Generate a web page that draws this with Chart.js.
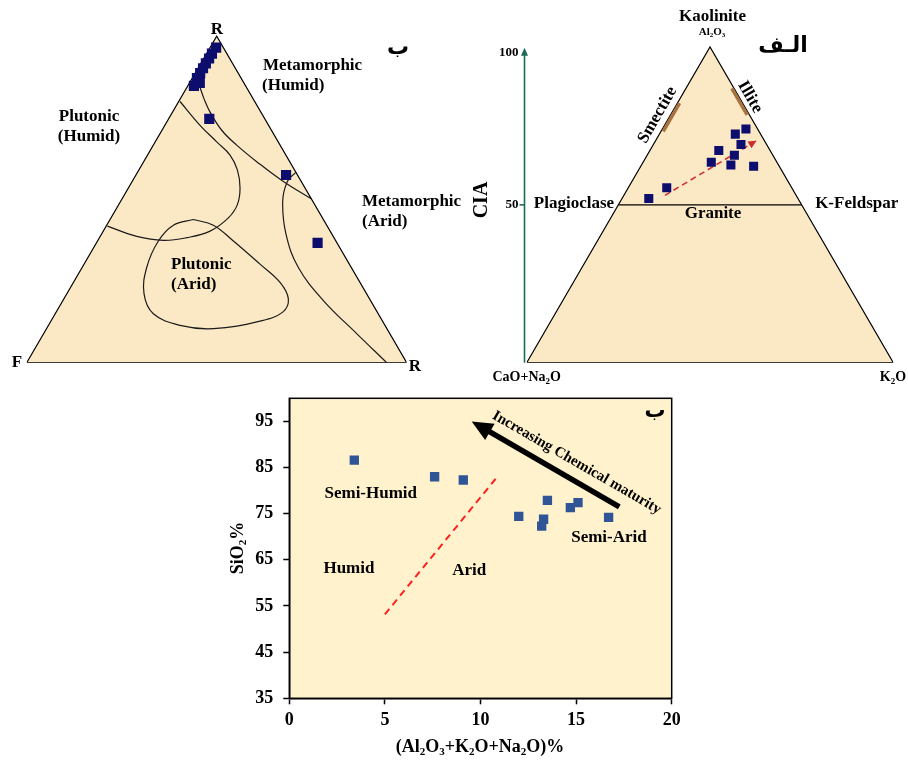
<!DOCTYPE html>
<html><head><meta charset="utf-8">
<script src="https://cdn.jsdelivr.net/npm/chart.js@4.4.1/dist/chart.umd.min.js"></script>
<style>
html,body{margin:0;padding:0;background:#fff;width:908px;height:761px;overflow:hidden}
canvas{position:absolute;display:block}
</style></head><body>
<canvas id="cA" width="470" height="390" style="left:0;top:0"></canvas>
<canvas id="cB" width="438" height="390" style="left:470px;top:0"></canvas>
<canvas id="cC" width="470" height="371" style="left:230px;top:390px"></canvas>
<script>
// ================= DATA =================
// Top-left ternary (apex R, left F, right R), composition in %
const qfrApex  = [96.5, 94.7, 93.2, 91.7, 90.2, 88.7, 87.2, 85.7, 84.8, 74.7, 57.5, 36.7];
const qfrLeftF = [1.9, 3.9, 5.4, 7.0, 8.5, 10.0, 11.6, 11.6, 13.6, 14.6, 3.0, 5.1];
const qfrRight = [1.6, 1.4, 1.4, 1.3, 1.3, 1.3, 1.2, 2.7, 1.6, 10.7, 39.5, 58.2];
// field boundaries of the top-left diagram (diagram units, base 0-100)
const fieldPlutonicHumid = [[40.35,69.3],[45.61,62.98],[50.0,58.6],[53.51,55.09],[55.44,51.14],[56.14,46.32],[55.44,41.93],[53.07,38.42],[48.25,34.91],[42.11,33.16],[35.96,32.46],[28.95,33.51],[21.23,36.23]];
const fieldMetaHumid = [[45.61,73.07],[46.67,70.0],[48.25,66.49],[51.32,61.67],[55.26,57.72],[60.53,53.33],[67.54,48.07],[74.85,43.51]];
const fieldPlutonicArid = [[43.86,37.98],[49.12,36.49],[54.39,32.28],[61.4,26.14],[66.67,21.32],[68.86,16.93],[67.37,13.42],[61.4,11.05],[49.12,9.04],[40.35,9.91],[33.33,12.98],[30.88,18.25],[31.58,25.26],[34.65,32.28],[38.6,36.49],[43.86,37.98]];
const fieldMetaArid = [[70.8,50.5],[68.6,48.07],[67.37,42.81],[68.25,34.04],[71.49,25.26],[78.07,16.49],[86.84,7.72],[94.74,0]];

// Top-right A-CN-K ternary (CIA)
const ackA  = [52.0, 55.4, 63.5, 67.2, 62.6, 65.7, 72.4, 69.1, 74.0, 62.2];
const ackCN = [40.7, 34.1, 17.9, 14.0, 13.0, 10.5, 6.9, 7.0, 3.2, 7.0];
const ackK  = [7.3, 10.5, 18.6, 18.8, 24.4, 23.8, 20.7, 23.9, 22.8, 30.8];
const trendA = [53.0, 70.3];
const trendK = [11.2, 27.5];
const smectiteA = [73.3, 82.2];
const illiteA = [78.5, 86.9];
const ciaTicks = [50, 100];

// Bottom scatter
const sumOxides = [3.4, 7.6, 9.1, 12.0, 13.3, 13.2, 13.5, 14.7, 15.1, 16.7];
const sio2      = [86.6, 83.0, 82.3, 74.4, 73.8, 72.3, 77.9, 76.3, 77.4, 74.2];
const xTickVals = [0, 5, 10, 15, 20];
const yTickVals = [35, 45, 55, 65, 75, 85, 95];
const dividerX = [5.0, 10.9];
const dividerY = [53.2, 83.1];
const maturityX = [17.26, 9.54];
const maturityY = [76.5, 95.0];

// ================= HELPERS =================
const H = Math.sqrt(3) / 2;
const qfrXY = (apex, right) => ({x: right + apex / 2, y: apex * H});
const ackXY = (a, k) => ({x: k + a / 2, y: a * H});
const FONT = '"Liberation Serif","Times New Roman",serif';
const AR = '"DejaVu Sans","Noto Sans",sans-serif';
const CREAM = '#fbe9c5';

function drawText(ctx, t) {
  ctx.save();
  ctx.fillStyle = t.color || '#000';
  ctx.translate(t.x, t.y);
  if (t.rot) ctx.rotate(t.rot);
  const size = t.size || 17;
  const base = `bold ${size}px ${t.arabic ? AR : FONT}`;
  const subF = `bold ${Math.round(size * 0.62)}px ${FONT}`;
  const parts = [];
  const re = /_(\d)/g; let last = 0, m;
  while ((m = re.exec(t.text))) {
    if (m.index > last) parts.push([t.text.slice(last, m.index), false]);
    parts.push([m[1], true]); last = re.lastIndex;
  }
  if (last < t.text.length) parts.push([t.text.slice(last), false]);
  let w = 0;
  parts.forEach(p => { ctx.font = p[1] ? subF : base; w += ctx.measureText(p[0]).width; });
  let cx = t.align === 'left' ? 0 : t.align === 'right' ? -w : -w / 2;
  ctx.textBaseline = 'middle'; ctx.textAlign = 'left';
  parts.forEach(p => { ctx.font = p[1] ? subF : base; ctx.fillText(p[0], cx, p[1] ? size * 0.3 : 0); cx += ctx.measureText(p[0]).width; });
  ctx.restore();
}
function arrowHead(ctx, from, to, len, half, color) {
  const a = Math.atan2(to.y - from.y, to.x - from.x);
  const bx = to.x - len * Math.cos(a), by = to.y - len * Math.sin(a);
  ctx.save(); ctx.fillStyle = color; ctx.beginPath();
  ctx.moveTo(to.x, to.y);
  ctx.lineTo(bx + half * Math.sin(a), by - half * Math.cos(a));
  ctx.lineTo(bx - half * Math.sin(a), by + half * Math.cos(a));
  ctx.closePath(); ctx.fill(); ctx.restore();
  return {x: bx, y: by};
}
function fillPolygon(chart, pts, color) {
  const ctx = chart.ctx, xs = chart.scales.x, ys = chart.scales.y;
  ctx.save(); ctx.fillStyle = color; ctx.beginPath();
  pts.forEach((p, i) => {
    const px = xs.getPixelForValue(p.x), py = ys.getPixelForValue(p.y);
    if (i === 0) ctx.moveTo(px, py); else ctx.lineTo(px, py);
  });
  ctx.closePath(); ctx.fill(); ctx.restore();
}
function baseOpts(pad, ymax) {
  return {
    responsive: false, animation: false, events: [],
    layout: {padding: pad},
    plugins: {legend: {display: false}, tooltip: {enabled: false}},
    scales: {
      x: {type: 'linear', min: 0, max: 100, display: false},
      y: {type: 'linear', min: 0, max: ymax, display: false}
    }
  };
}
const lineDs = (pts, color, width, extra) => Object.assign({
  data: pts, showLine: true, borderColor: color, borderWidth: width,
  pointRadius: 0, fill: false, tension: 0
}, extra || {});
const fromPairs = arr => arr.map(p => ({x: p[0], y: p[1]}));

// ================= CHART A (top-left) =================
const triA = [qfrXY(0, 0), qfrXY(100, 0), qfrXY(0, 100), qfrXY(0, 0)];
const labelsA = [
  {text: 'R', x: 217, y: 30},
  {text: 'ب', x: 398, y: 48, size: 22, arabic: true},
  {text: 'Metamorphic', x: 263, y: 66, align: 'left'},
  {text: '(Humid)', x: 262, y: 86, align: 'left'},
  {text: 'Plutonic', x: 89, y: 117},
  {text: '(Humid)', x: 89, y: 137},
  {text: 'Metamorphic', x: 362, y: 202, align: 'left'},
  {text: '(Arid)', x: 362, y: 222, align: 'left'},
  {text: 'Plutonic', x: 171, y: 265, align: 'left'},
  {text: '(Arid)', x: 171, y: 285, align: 'left'},
  {text: 'F', x: 17, y: 363},
  {text: 'R', x: 415, y: 367}
];
new Chart(document.getElementById('cA'), {
  type: 'scatter',
  data: {datasets: [
    {data: qfrApex.map((a, i) => qfrXY(a, qfrRight[i])), pointStyle: 'rect', pointRadius: 7.2,
     backgroundColor: '#0d0d6e', borderWidth: 0, order: 0},
    lineDs(fromPairs(fieldPlutonicHumid), '#1a1a1a', 1.2, {tension: 0.4, order: 1}),
    lineDs(fromPairs(fieldMetaHumid), '#1a1a1a', 1.2, {tension: 0.4, order: 1}),
    lineDs(fromPairs(fieldPlutonicArid), '#1a1a1a', 1.2, {tension: 0.4, order: 1}),
    lineDs(fromPairs(fieldMetaArid), '#1a1a1a', 1.2, {tension: 0.4, order: 1}),
    lineDs(triA, '#000', 1.2, {order: 10})
  ]},
  options: baseOpts({left: 26.7, right: 63.3, top: 4.3, bottom: 27.3}, 358.4 / 3.8),
  plugins: [{id: 'pA',
    beforeDatasetsDraw(chart) { fillPolygon(chart, triA, CREAM); },
    afterDraw(chart) { labelsA.forEach(t => drawText(chart.ctx, t)); }}]
});

// ================= CHART B (top-right) =================
const triB = [ackXY(0, 0), ackXY(100, 0), ackXY(0, 100), ackXY(0, 0)];
const labelsB = [
  {text: 'Kaolinite', x: 242.5, y: 17},
  {text: 'Al_2O_3', x: 242, y: 32, size: 11},
  {text: 'الـف', x: 313, y: 46, size: 22, arabic: true},
  {text: 'Plagioclase', x: 104, y: 204},
  {text: 'K-Feldspar', x: 386.7, y: 204},
  {text: 'Granite', x: 243, y: 214},
  {text: 'Smectite', x: 187.5, y: 115, rot: -Math.PI / 3},
  {text: 'Illite', x: 280, y: 97, rot: Math.PI / 3},
  {text: 'CIA', x: 12, y: 200, size: 20, rot: -Math.PI / 2},
  {text: 'CaO+Na_2O', x: 56.7, y: 377, size: 14},
  {text: 'K_2O', x: 423, y: 377, size: 14}
];
new Chart(document.getElementById('cB'), {
  type: 'scatter',
  data: {datasets: [
    {data: ackA.map((a, i) => ackXY(a, ackK[i])), pointStyle: 'rect', pointRadius: 6.4,
     backgroundColor: '#0d0d6e', borderWidth: 0, order: 0},
    lineDs(trendA.map((a, i) => ackXY(a, trendK[i])), '#d02b2b', 1.5, {borderDash: [6, 4], order: 1}),
    lineDs(smectiteA.map(a => ackXY(a, 0.6)), '#a8733f', 3.5, {order: 2}),
    lineDs(illiteA.map(a => ackXY(a, 100 - a - 0.6)), '#a8733f', 3.5, {order: 2}),
    lineDs([ackXY(50, 0), ackXY(50, 50)], '#000', 1.2, {order: 3}),
    lineDs(triB, '#000', 1.2, {order: 10})
  ]},
  options: baseOpts({left: 56.7, right: 14.7, top: 4.3, bottom: 27.3}, 358.4 / 3.667),
  plugins: [{id: 'pB',
    beforeDatasetsDraw(chart) { fillPolygon(chart, triB, CREAM); },
    afterDraw(chart) {
    const ctx = chart.ctx, xs = chart.scales.x, ys = chart.scales.y;
    // trend arrow head
    const s = ackXY(trendA[0], trendK[0]), e = ackXY(trendA[1], trendK[1]);
    arrowHead(ctx, {x: xs.getPixelForValue(s.x), y: ys.getPixelForValue(s.y)},
                   {x: xs.getPixelForValue(e.x), y: ys.getPixelForValue(e.y)}, 8, 4, '#d02b2b');
    // CIA axis
    const ax = xs.getPixelForValue(-0.6);
    const y0 = ys.getPixelForValue(0), yTop = ys.getPixelForValue(86.4);
    const green = '#1d6b57';
    ctx.save(); ctx.strokeStyle = green; ctx.lineWidth = 1.6;
    ctx.beginPath(); ctx.moveTo(ax, y0); ctx.lineTo(ax, yTop + 6); ctx.stroke();
    arrowHead(ctx, {x: ax, y: y0}, {x: ax, y: yTop}, 8, 3.5, green);
    ciaTicks.forEach(v => {
      const py = ys.getPixelForValue(v * H);
      if (v < 100) { ctx.beginPath(); ctx.moveTo(ax - 5, py); ctx.lineTo(ax, py); ctx.stroke(); }
      drawText(ctx, {text: String(v), x: ax - 6, y: v < 100 ? py : py + 6, size: 13, align: 'right'});
    });
    ctx.restore();
    labelsB.forEach(t => drawText(ctx, t));
  }}]
});

// ================= CHART C (bottom) =================
const labelsCdata = [
  {text: 'Semi-Humid', dx: 4.26, dy: 79.4},
  {text: 'Humid', dx: 3.12, dy: 63.0},
  {text: 'Arid', dx: 9.41, dy: 62.6},
  {text: 'Semi-Arid', dx: 16.72, dy: 69.85}
];
const tickFont = {family: FONT, size: 18, weight: 'bold'};
new Chart(document.getElementById('cC'), {
  type: 'scatter',
  data: {datasets: [
    {data: sumOxides.map((x, i) => ({x, y: sio2[i]})), pointStyle: 'rect', pointRadius: 6.6,
     backgroundColor: '#2f5597', borderWidth: 0, order: 0},
    lineDs(dividerX.map((x, i) => ({x, y: dividerY[i]})), '#ff2020', 2, {borderDash: [7, 5], order: 1})
  ]},
  options: {
    responsive: false, animation: false, events: [],
    layout: {padding: {left: 0, right: 28.3, top: 8.3, bottom: 0}},
    plugins: {legend: {display: false}, tooltip: {enabled: false}},
    scales: {
      x: {type: 'linear', min: 0, max: 20,
          afterBuildTicks: s => { s.ticks = xTickVals.map(v => ({value: v})); },
          afterFit: s => { s.height = 62.7; s.paddingLeft = 0; s.paddingRight = 0; },
          ticks: {font: tickFont, color: '#000', padding: 5, maxRotation: 0},
          grid: {drawOnChartArea: false, drawTicks: true, tickLength: 6, tickColor: '#000', tickWidth: 1.5},
          border: {display: true, color: '#000', width: 1.5}},
      y: {type: 'linear', min: 35, max: 100,
          afterBuildTicks: s => { s.ticks = yTickVals.map(v => ({value: v})); },
          afterFit: s => { s.width = 59.3; s.paddingTop = 0; s.paddingBottom = 0; },
          ticks: {font: tickFont, color: '#000', padding: 10},
          grid: {drawOnChartArea: false, drawTicks: true, tickLength: 6, tickColor: '#000', tickWidth: 1.5},
          border: {display: true, color: '#000', width: 1.5}}
    }
  },
  plugins: [{id: 'pC',
    beforeDraw(chart) {
      const {ctx, chartArea: a} = chart;
      ctx.save(); ctx.fillStyle = '#fff2cc'; ctx.fillRect(a.left, a.top, a.right - a.left, a.bottom - a.top); ctx.restore();
    },
    afterDraw(chart) {
      const {ctx, chartArea: a} = chart, xs = chart.scales.x, ys = chart.scales.y;
      ctx.save(); ctx.strokeStyle = '#000'; ctx.lineWidth = 1.5;
      ctx.strokeRect(a.left, a.top, a.right - a.left, a.bottom - a.top); ctx.restore();
      // maturity arrow
      const tail = {x: xs.getPixelForValue(maturityX[0]), y: ys.getPixelForValue(maturityY[0])};
      const tip = {x: xs.getPixelForValue(maturityX[1]), y: ys.getPixelForValue(maturityY[1])};
      const base = arrowHead(ctx, tail, tip, 21, 9.5, '#000');
      ctx.save(); ctx.strokeStyle = '#000'; ctx.lineWidth = 5.5;
      ctx.beginPath(); ctx.moveTo(tail.x, tail.y); ctx.lineTo(base.x + (tip.x - base.x) / 21, base.y + (tip.y - base.y) / 21); ctx.stroke(); ctx.restore();
      const rot = Math.atan2(tail.y - tip.y, tail.x - tip.x);
      drawText(ctx, {text: 'Increasing Chemical maturity', x: xs.getPixelForValue(15.03), y: ys.getPixelForValue(86.04), size: 15, rot});
      labelsCdata.forEach(t => drawText(ctx, {text: t.text, x: xs.getPixelForValue(t.dx), y: ys.getPixelForValue(t.dy), size: 17}));
      drawText(ctx, {text: 'ب', x: 425, y: 22, size: 21, arabic: true});
      drawText(ctx, {text: '(Al_2O_3+K_2O+Na_2O)%', x: 250, y: 357, size: 18});
      drawText(ctx, {text: 'SiO_2%', x: 8, y: 158, size: 18, rot: -Math.PI / 2});
    }
  }]
});
</script></body></html>
